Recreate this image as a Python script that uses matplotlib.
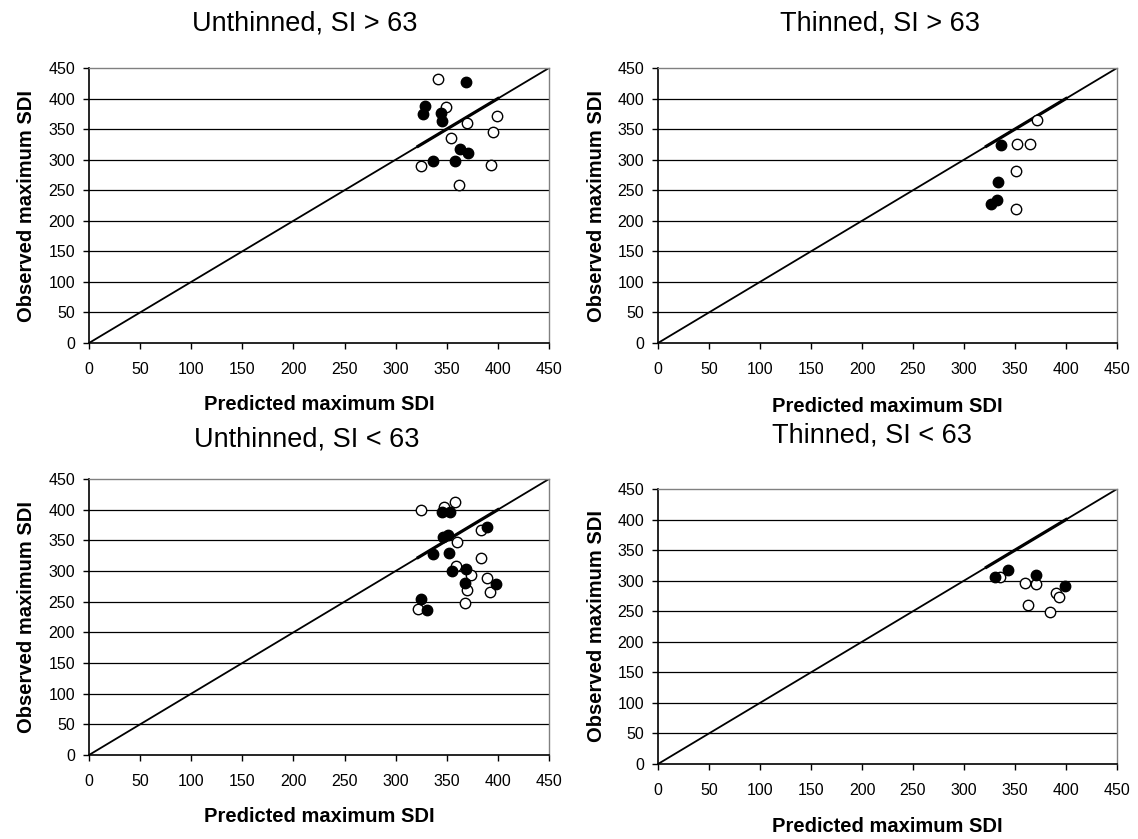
import matplotlib
matplotlib.use("Agg")
import matplotlib.pyplot as plt

plt.rcParams['font.family'] = ['Liberation Sans', 'DejaVu Sans']

W, H = 1138, 839
ticks = [0, 50, 100, 150, 200, 250, 300, 350, 400, 450]

# Unthinned, SI > 63
unthin_hi_open_x = [341, 349, 370, 399, 395, 354, 325, 393, 362]
unthin_hi_open_y = [432, 386, 360, 372, 346, 336, 290, 292, 259]
unthin_hi_fill_x = [369, 329, 327, 344, 345, 363, 371, 337, 358]
unthin_hi_fill_y = [427, 388, 374, 376, 364, 318, 311, 298, 297]

# Thinned, SI > 63
thin_hi_open_x = [372, 352, 365, 351, 351]
thin_hi_open_y = [365, 325, 325, 281, 220]
thin_hi_fill_x = [336, 333, 332, 326]
thin_hi_fill_y = [324, 263, 234, 228]

# Unthinned, SI < 63
unthin_lo_open_x = [325, 347, 358, 383, 360, 383, 359, 374, 389, 370, 392, 368, 322]
unthin_lo_open_y = [399, 404, 413, 367, 348, 321, 308, 294, 288, 269, 266, 248, 238]
unthin_lo_fill_x = [345, 353, 389, 346, 351, 337, 352, 369, 355, 368, 398, 325, 331]
unthin_lo_fill_y = [397, 397, 372, 355, 358, 327, 330, 304, 300, 281, 279, 254, 237]

# Thinned, SI < 63
thin_lo_open_x = [335, 360, 371, 390, 393, 363, 384]
thin_lo_open_y = [306, 296, 294, 280, 274, 261, 249]
thin_lo_fill_x = [330, 343, 371, 399]
thin_lo_fill_y = [306, 317, 309, 292]

panels = [
    ("Unthinned, SI > 63", unthin_hi_open_x, unthin_hi_open_y, unthin_hi_fill_x, unthin_hi_fill_y),
    ("Thinned, SI > 63", thin_hi_open_x, thin_hi_open_y, thin_hi_fill_x, thin_hi_fill_y),
    ("Unthinned, SI < 63", unthin_lo_open_x, unthin_lo_open_y, unthin_lo_fill_x, unthin_lo_fill_y),
    ("Thinned, SI < 63", thin_lo_open_x, thin_lo_open_y, thin_lo_fill_x, thin_lo_fill_y),
]

# plot areas in pixels: left, top, right, bottom
areas = [(89, 68, 549, 343), (658, 68, 1117, 343), (89, 479, 549, 755), (658, 489, 1117, 764)]
# title centre / baseline, x-label centre, y-label centre (pixels)
title_xy = [(305, 30), (880, 30), (307, 446), (872, 443)]
xlabel_xy = [(319, 405), (887, 407), (319, 816), (887, 826)]
ylabel_x = [27, 596, 27, 596]


def fx(px):
    return px / W


def fy(py):
    return 1 - py / H


fig = plt.figure(figsize=(W / 100, H / 100), dpi=100)

for i, (title, ox, oy, fx_, fy_) in enumerate(panels):
    l, t, r, b = areas[i]
    ax = fig.add_axes([fx(l), fy(b), (r - l) / W, (b - t) / H])
    ax.set_xlim(0, 450)
    ax.set_ylim(0, 450)
    for tk in ticks[1:-1]:
        ax.axhline(tk, color='black', lw=0.9, zorder=1)
    # 1:1 line, heavier over the range of predictions
    ax.plot([0, 450], [0, 450], color='black', lw=1.3, zorder=2)
    ax.plot([322, 400], [322, 400], color='black', lw=2.3, zorder=2)
    ax.plot(ox, oy, 'o', ms=7.5, mfc='white', mec='black', mew=1.0, zorder=3)
    ax.plot(fx_, fy_, 'o', ms=7.5, mfc='black', mec='black', mew=1.0, zorder=4)

    ax.set_xticks(ticks)
    ax.set_yticks(ticks)
    ax.tick_params(direction='out', length=4, width=1, labelsize=11.5, pad=6)
    ax.tick_params(axis='x', pad=10)
    for side in ['top', 'right']:
        ax.spines[side].set_color('#808080')
        ax.spines[side].set_linewidth(1.0)
    for side in ['left', 'bottom']:
        ax.spines[side].set_color('black')
        ax.spines[side].set_linewidth(1.2)

    fig.text(fx(title_xy[i][0]), fy(title_xy[i][1]), title, fontsize=19.5,
             ha='center', va='baseline')
    fig.text(fx(xlabel_xy[i][0]), fy(xlabel_xy[i][1]), 'Predicted maximum SDI', fontsize=14.5,
             fontweight='bold', ha='center', va='center')
    fig.text(fx(ylabel_x[i]), fy((t + b) / 2), 'Observed maximum SDI', fontsize=14.5,
             fontweight='bold', ha='center', va='center', rotation=90)

fig.savefig('out.png', dpi=100, facecolor='white')
